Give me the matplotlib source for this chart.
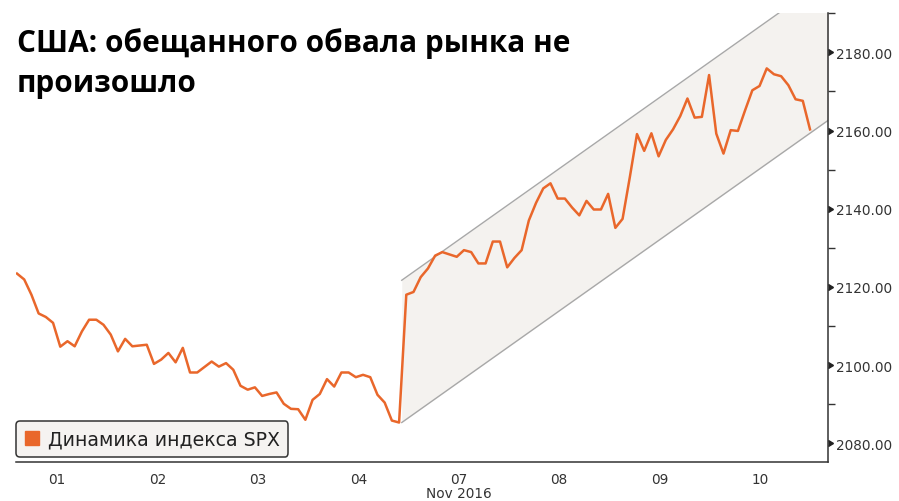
import numpy as np
import matplotlib.pyplot as plt
from matplotlib.lines import Line2D

# S&P 500 intraday values, Nov 1 - Nov 10, 2016
spx = [
    2123.4, 2121.9, 2118.0, 2113.2, 2112.3, 2110.8, 2104.7, 2106.1, 2104.8, 2108.6,
    2111.6, 2111.6, 2110.3, 2107.8, 2103.5, 2106.7, 2104.8, 2105.0, 2105.2, 2100.3,
    2101.4, 2103.1, 2100.7, 2104.4, 2098.1, 2098.1, 2099.5, 2100.9, 2099.6, 2100.5,
    2098.8, 2094.7, 2093.7, 2094.3, 2092.1, 2092.6, 2093.0, 2090.1, 2088.8, 2088.7,
    2086.0, 2091.1, 2092.6, 2096.4, 2094.5, 2098.1, 2098.1, 2096.9, 2097.5, 2096.9,
    2092.4, 2090.4, 2085.8, 2085.3, 2118.0, 2118.7, 2122.5, 2124.7, 2128.0, 2128.9,
    2128.3, 2127.7, 2129.4, 2128.9, 2126.0, 2126.0, 2131.6, 2131.6, 2125.0, 2127.4,
    2129.4, 2137.0, 2141.5, 2145.2, 2146.5, 2142.6, 2142.6, 2140.3, 2138.3, 2142.0,
    2139.8, 2139.8, 2143.8, 2135.1, 2137.4, 2148.0, 2159.1, 2154.8, 2159.3, 2153.4,
    2157.6, 2160.3, 2163.7, 2168.2, 2163.3, 2163.5, 2174.2, 2159.2, 2154.1, 2160.1,
    2159.9, 2165.2, 2170.3, 2171.4, 2175.9, 2174.4, 2173.9, 2171.6, 2168.0, 2167.6,
    2160.3,
]
day_labels = ['01', '02', '03', '04', '07\nNov 2016', '08', '09', '10']

# trend channel after the election jump
chan_start = 3.933
chan_low = 2085.3
chan_high = 2121.7
chan_slope = 18.2   # points per day

orange = '#e9672b'
dark = '#333333'

x = np.linspace(0.1, 8.0, len(spx))

fig = plt.figure(figsize=(8.99, 5.02), dpi=100)
ax = fig.add_axes([0.0178, 0.0777, 0.9033, 0.8954])

cx = np.array([chan_start, 8.4])
lo = chan_low + chan_slope * (cx - chan_start)
hi = chan_high + chan_slope * (cx - chan_start)
ax.fill_between(cx, lo, hi, color='#f4f2ef', lw=0, zorder=1)
ax.plot(cx, lo, color='#a8a8a8', lw=1, zorder=2)
ax.plot(cx, hi, color='#a8a8a8', lw=1, zorder=2)

ax.plot(x, spx, color=orange, lw=1.8, zorder=3)

ax.set_xlim(0.09, 8.18)
ax.set_ylim(2075.2, 2190.2)

# axes / ticks
for s in ['top', 'left']:
    ax.spines[s].set_visible(False)
for s in ['right', 'bottom']:
    ax.spines[s].set_color(dark)
    ax.spines[s].set_linewidth(1.1)

ax.yaxis.tick_right()
yt = list(range(2080, 2181, 20))
ax.set_yticks(yt)
ax.set_yticks(list(range(2090, 2191, 20)), minor=True)
ax.set_yticklabels([f'{v:.2f}' for v in yt])
ax.tick_params(axis='y', which='major', length=0, pad=6, labelsize=9.8, labelcolor=dark)
ax.tick_params(axis='y', which='minor', length=5, width=1, color=dark, direction='out')
ax.plot([1] * len(yt), yt, transform=ax.get_yaxis_transform(), marker=9, ms=5,
        color='#222222', ls='none', clip_on=False, zorder=5)

ax.set_xticks(np.arange(8) + 0.5)
ax.set_xticklabels(day_labels, linespacing=1.05)
ax.tick_params(axis='x', length=0, pad=7, labelsize=9.8, labelcolor=dark)

h = Line2D([], [], marker='s', color=orange, ls='none', ms=10)
leg = ax.legend(handles=[h], labels=['Динамика индекса SPX'], loc='lower left',
                bbox_to_anchor=(0, 0.011), borderaxespad=0, fancybox=True,
                edgecolor=dark, facecolor='#f5f3f1', framealpha=1, fontsize=13.6,
                handlelength=0.8, handletextpad=0.45, borderpad=0.45)
leg.get_frame().set_linewidth(1.1)
for t in leg.get_texts():
    t.set_color('#222222')

fig.text(17 / 899, 1 - 28 / 502, 'США: обещанного обвала рынка не\nпроизошло',
         fontsize=21.4, fontweight='bold', family='Open Sans', va='top',
         linespacing=1.45, color='black')

fig.savefig('out.png', dpi=100)
